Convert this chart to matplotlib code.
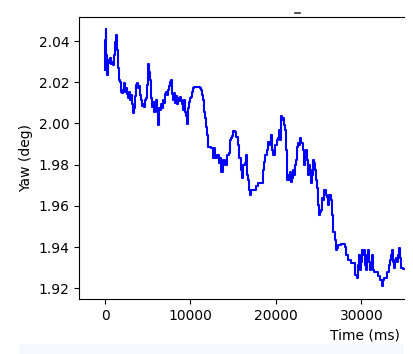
import numpy as np
import matplotlib
matplotlib.use("Agg")
import matplotlib.pyplot as plt
from matplotlib.patches import Rectangle
from matplotlib.lines import Line2D

# ── Datos ────────────────────────────────────────────────────────────────────
time_ms = [
    0, 58, 117, 175, 234, 292, 351, 468, 585, 702, 819, 936, 1053, 1170, 1287,
    1404, 1521, 1638, 1755, 1872, 1989, 2106, 2223, 2340, 2457, 2574, 2691,
    2808, 2925, 3042, 3159, 3276, 3393, 3510, 3627, 3744, 3861, 3978, 4095,
    4212, 4329, 4446, 4563, 4680, 4797, 4914, 5031, 5148, 5265, 5382, 5499,
    5616, 5733, 5850, 5967, 6084, 6201, 6318, 6435, 6552, 6669, 6786, 6903,
    7020, 7137, 7254, 7371, 7488, 7605, 7722, 7839, 7956, 8073, 8190, 8307,
    8424, 8541, 8658, 8775, 8892, 9009, 9126, 9243, 9360, 9477, 9594, 9711,
    9828, 9945, 10062, 10179, 10296, 10413, 10647, 10881, 11115, 11232, 11349,
    11466, 11583, 11700, 11817, 11934, 12051, 12402, 12636, 12753, 12870,
    13104, 13338, 13455, 13572, 13806, 14040, 14274, 14508, 14625, 14742,
    14859, 14976, 15210, 15327, 15561, 15678, 15912, 16029, 16146, 16380,
    16497, 16614, 16731, 16848, 16965, 17082, 17433, 17667, 17901, 18369,
    18486, 18603, 18720, 18954, 19071, 19188, 19305, 19422, 19539, 19656,
    19890, 20124, 20241, 20358, 20475, 20592, 20709, 20826, 20943, 21060,
    21177, 21294, 21411, 21528, 21645, 21762, 21879, 21996, 22113, 22230,
    22347, 22464, 22581, 22698, 22815, 22932, 23166, 23283, 23400, 23517,
    23634, 23751, 23868, 23985, 24102, 24219, 24336, 24453, 24570, 24687,
    24804, 24921, 25038, 25155, 25272, 25389, 25506, 25623, 25857, 25974,
    26091, 26208, 26442, 26559, 26676, 26910, 27027, 27144, 27261, 27612,
    27846, 28080, 28197, 28431, 28782, 29016, 29250, 29484, 29601, 29718,
    29835, 29952, 30069, 30186, 30303, 30420, 30537, 30654, 30771, 30888,
    31005, 31122, 31239, 31356, 31473, 31707, 31941, 32175, 32409, 32526,
    32643, 32877, 32994, 33228, 33345, 33462, 33579, 33696, 33813, 33930,
    34047, 34164, 34281, 34398, 34515, 34632, 34866, 36972,
]
yaw_deg = [
    2.0259, 2.0405, 2.0458, 2.0332, 2.0269, 2.0235, 2.0308, 2.0293, 2.0317,
    2.0288, 2.0298, 2.0284, 2.0332, 2.0395, 2.0429, 2.0356, 2.0269, 2.0211,
    2.0201, 2.0152, 2.0148, 2.0162, 2.0196, 2.0152, 2.0172, 2.0143, 2.0123,
    2.0152, 2.0114, 2.0138, 2.0094, 2.0050, 2.0075, 2.0133, 2.0186, 2.0196,
    2.0172, 2.0182, 2.0138, 2.0114, 2.0084, 2.0094, 2.0080, 2.0114, 2.0123,
    2.0186, 2.0288, 2.0250, 2.0211, 2.0123, 2.0080, 2.0104, 2.0055, 2.0094,
    2.0114, 2.0055, 1.9992, 2.0075, 2.0065, 2.0094, 2.0075, 2.0114, 2.0099,
    2.0143, 2.0152, 2.0138, 2.0162, 2.0182, 2.0201, 2.0211, 2.0143, 2.0114,
    2.0148, 2.0099, 2.0133, 2.0094, 2.0123, 2.0109, 2.0128, 2.0114, 2.0094,
    2.0065, 2.0114, 2.0055, 2.0036, 1.9997, 2.0075, 2.0104, 2.0123, 2.0128,
    2.0152, 2.0172, 2.0177, 2.0177, 2.0177, 2.0172, 2.0162, 2.0138, 2.0114,
    2.0055, 2.0026, 1.9983, 1.9944, 1.9885, 1.9881, 1.9832, 1.9881, 1.9832,
    1.9847, 1.9808, 1.9832, 1.9764, 1.9822, 1.9798, 1.9847, 1.9856, 1.9919,
    1.9929, 1.9939, 1.9963, 1.9958, 1.9934, 1.9895, 1.9832, 1.9774, 1.9735,
    1.9798, 1.9808, 1.9847, 1.9750, 1.9725, 1.9677, 1.9652, 1.9677, 1.9677,
    1.9696, 1.9711, 1.9711, 1.9774, 1.9813, 1.9847, 1.9871, 1.9910, 1.9895,
    1.9910, 1.9944, 1.9871, 1.9847, 1.9895, 1.9919, 1.9929, 1.9968, 1.9919,
    2.0036, 2.0017, 2.0026, 1.9992, 1.9968, 1.9871, 1.9725, 1.9750, 1.9725,
    1.9764, 1.9716, 1.9735, 1.9774, 1.9750, 1.9798, 1.9822, 1.9885, 1.9905,
    1.9895, 1.9929, 1.9905, 1.9871, 1.9798, 1.9822, 1.9871, 1.9822, 1.9750,
    1.9798, 1.9774, 1.9711, 1.9750, 1.9822, 1.9808, 1.9774, 1.9725, 1.9686,
    1.9604, 1.9555, 1.9570, 1.9580, 1.9638, 1.9628, 1.9677, 1.9652, 1.9643,
    1.9604, 1.9652, 1.9628, 1.9555, 1.9473, 1.9434, 1.9386, 1.9395, 1.9410,
    1.9415, 1.9415, 1.9400, 1.9361, 1.9337, 1.9322, 1.9322, 1.9264, 1.9250,
    1.9313, 1.9361, 1.9288, 1.9327, 1.9386, 1.9361, 1.9386, 1.9313, 1.9288,
    1.9361, 1.9386, 1.9327, 1.9288, 1.9313, 1.9361, 1.9288, 1.9279, 1.9279,
    1.9259, 1.9240, 1.9211, 1.9240, 1.9250, 1.9250, 1.9279, 1.9313, 1.9337,
    1.9361, 1.9386, 1.9327, 1.9298, 1.9337, 1.9347, 1.9327, 1.9361, 1.9395,
    1.9347, 1.9298, 1.9293, 1.9293,
]
x_ticks = [0, 10000, 20000, 30000]

W, H = 414, 354
fig = plt.figure(figsize=(W / 100, H / 100), dpi=100)

# Ejes más anchos que la figura: la captura original está recortada a la derecha
ax = fig.add_axes([79 / W, 55 / H, (651 - 79) / W, (299 - 17) / H])
ax.plot(time_ms, yaw_deg, color='blue', lw=1.5, drawstyle='steps-post')
ax.set_xlim(-3041, 63860)
ax.set_ylim(1.9148, 2.0517)
ax.set_xticks(x_ticks)
ax.set_xlabel('Time (ms)')
ax.set_ylabel('Yaw (deg)')

# Recorte blanco a la derecha y franja gris clara inferior
fig.patches.append(Rectangle((405 / W, 0), 1, 1, transform=fig.transFigure,
                             facecolor='white', edgecolor='none', zorder=10))
fig.patches.append(Rectangle((19 / W, 0), (404 - 19) / W, 10 / H,
                             transform=fig.transFigure, facecolor='#f5f8fc',
                             edgecolor='none', zorder=11))
fig.lines.append(Line2D([295 / W, 300 / W], [1 - 12.5 / H, 1 - 12.5 / H],
                        transform=fig.transFigure, color='#333333', lw=1.2))

fig.savefig('out.png', dpi=100)
